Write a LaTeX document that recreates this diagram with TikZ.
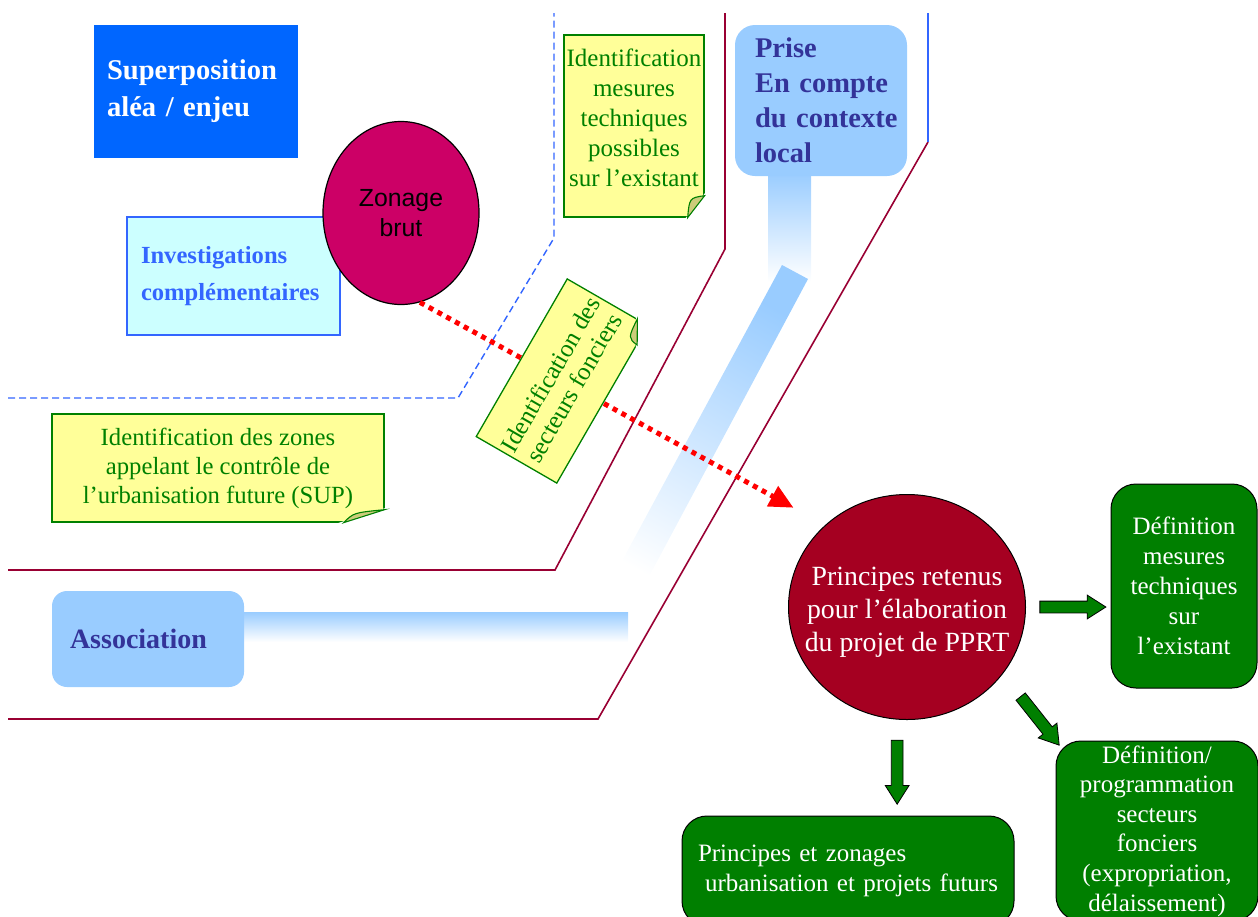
\documentclass[tikz,border=0pt]{standalone}
\usepackage{fontspec}
\setmainfont{Liberation Serif}
\newfontfamily\arialfont{Liberation Sans}
\usetikzlibrary{calc,positioning,shapes.geometric,shapes.arrows,arrows.meta}

\definecolor{superblue}{HTML}{0066FF}
\definecolor{investfill}{HTML}{CCFFFF}
\definecolor{investblue}{HTML}{3366FF}
\definecolor{zonagepink}{HTML}{CC0066}
\definecolor{noteyellow}{HTML}{FFFF99}
\definecolor{notegreen}{HTML}{008000}
\definecolor{foldtan}{HTML}{CCCC7A}
\definecolor{priselight}{HTML}{99CCFF}
\definecolor{prisetext}{HTML}{333399}
\definecolor{linered}{HTML}{990033}
\definecolor{principesred}{HTML}{A50021}
\definecolor{boxgreen}{HTML}{007F00}

\tikzset{
  notebox/.style={draw=notegreen, line width=1.3, fill=noteyellow, text=notegreen, align=center, inner sep=0pt, font=\fontsize{25}{30}\selectfont},
  bluebox/.style={fill=priselight, rounded corners=20, text=prisetext, align=left, inner ysep=2pt, font=\bfseries\fontsize{28.5}{35}\selectfont},
  greenbox/.style={draw=black, line width=1, fill=boxgreen, rounded corners=25, text=white, align=center, inner sep=2pt, font=\fontsize{25}{30}\selectfont},
  blockarrow/.style={single arrow, draw=black, line width=0.8, fill=boxgreen, text height=5.5pt, text depth=5.5pt, single arrow head extend=6pt, single arrow tip angle=65, inner sep=0pt, sloped},
  limit/.style={linered, line width=1.6},
  redarrow/.style={red, line width=5, dash pattern=on 5pt off 5pt, -{Triangle[length=24pt, width=22pt]}, shorten >=36pt},
}

% folded corner of a note
\newcommand{\foldcorner}[3]{%
  \coordinate (fold b) at ($(#1.south east)!#2!(#1.south west)$);
  \coordinate (fold r) at ($(#1.south east)!#3!(#1.north east)$);
  \coordinate (fold m) at ($(fold b)!0.5!(fold r)$);
  \filldraw[white, line width=2.6] (#1.south east) -- (fold b) -- (fold r) -- cycle;
  \filldraw[draw=notegreen, fill=foldtan, line width=1.1] (fold b) -- (fold r) .. controls ($(fold m)!11pt!(#1.center)$) .. (fold b) -- cycle;
}

\begin{document}
\begin{tikzpicture}[x=1pt, y=-1pt]
\useasboundingbox (0,0) rectangle (1258,916);
\clip (0,0) rectangle (1258,916);

% Gradient bands
\shade[top color=priselight, bottom color=white] (768,172) rectangle (811,282);
\shade[top color=priselight, middle color=priselight!65!white, bottom color=white, shading angle=-29] (782,265) -- (808,279) -- (630,612) -- (602,598) -- cycle;
\shade[top color=priselight, bottom color=white] (240,612) rectangle (628,642);

% Limits
\draw[investblue, line width=1.4, dash pattern=on 7pt off 4pt] (8,398) -- (458,398) -- (554,238) -- (554,13);
\draw[limit] (8,570) -- (555,570) -- (725,249) -- (725,13);
\draw[limit] (8,719) -- (598,719) -- (928,142);
\draw[investblue, line width=1.5] (928,142) -- (928,13);

% Left column
\node[fill=superblue, minimum height=133, text width=178, inner xsep=13, align=left, text=white, font=\bfseries\fontsize{28.6}{37}\selectfont] (super) at (196,91) {Superposition\\aléa / enjeu};
\node[draw=investblue, line width=1.5, fill=investfill, minimum height=118, text width=185, inner xsep=14, align=left, text=investblue, font=\bfseries\fontsize{24.6}{37}\selectfont] (invest) at (233.5,276) {Investigations\\complémentaires};
\node[ellipse, draw=black, line width=1.2, fill=zonagepink, minimum width=156, minimum height=183, inner sep=0pt, align=center, font=\arialfont\fontsize{24.8}{30}\selectfont] (zonage) at (401,213) {Zonage\\brut};
\node[notebox, minimum width=332, minimum height=108, font=\fontsize{24.7}{29}\selectfont] (sup) at (218,468) {Identification des zones\\appelant le contrôle de\\l’urbanisation future (SUP)};
\foldcorner{sup}{41pt}{13pt}
\node[bluebox, rounded corners=15, minimum height=96, text width=156, inner xsep=18, font=\bfseries\fontsize{28}{34}\selectfont] (assoc) at (148,639) {Association};

% Upper notes
\node[notebox, minimum width=140, minimum height=182, text depth=16pt] (mesures) at (634,126) {Identification\\mesures\\techniques\\possibles\\sur l’existant};
\foldcorner{mesures}{17pt}{22pt}
\node[bluebox, minimum height=151, text width=132, inner xsep=20] (prise) at (821,100.5) {Prise\\\mbox{En compte}\\\mbox{du contexte}\\local};

% Result
\node[ellipse, draw=black, line width=1, fill=principesred, minimum width=237, minimum height=225, inner xsep=-20pt, inner ysep=0pt, align=center, text=white, font=\fontsize{27.8}{33}\selectfont] (principes) at (907,607) {\rule{0pt}{29pt}Principes retenus\\pour l’élaboration\\du projet de PPRT};
\node[greenbox, minimum width=146, minimum height=204] (defmes) at (1184,586) {Définition\\mesures\\techniques\\sur\\l’existant};
\node[greenbox, minimum width=202, minimum height=180, font=\fontsize{25}{29.6}\selectfont] (defsect) at (1157,831) {Définition/\\programmation\\secteurs\\fonciers\\(expropriation,\\délaissement)};
\node[greenbox, text width=300, inner xsep=16, minimum height=110, align=left] (princzon) at (848,871) {Principes et zonages\\\hspace{7pt}urbanisation et projets futurs};

% Red dotted link
\draw[redarrow] (zonage.-78) -- (principes.135);
\node[notebox, rotate=60, minimum width=182, minimum height=93, font=\fontsize{25}{27}\selectfont] (secteurs) at (562,381) {Identification des\\secteurs fonciers};
\foldcorner{secteurs}{23pt}{13pt}

% Block arrows
\path (principes.east) -- (principes.east -| defmes.west) node[blockarrow, midway, minimum height=66] {};
\path (principes.-95) -- (principes.-95 |- princzon.north) node[blockarrow, midway, minimum height=64] {};
\path (principes.-35) -- (defsect.north west) node[blockarrow, pos=0.65, minimum height=62] {};
\end{tikzpicture}
\end{document}
